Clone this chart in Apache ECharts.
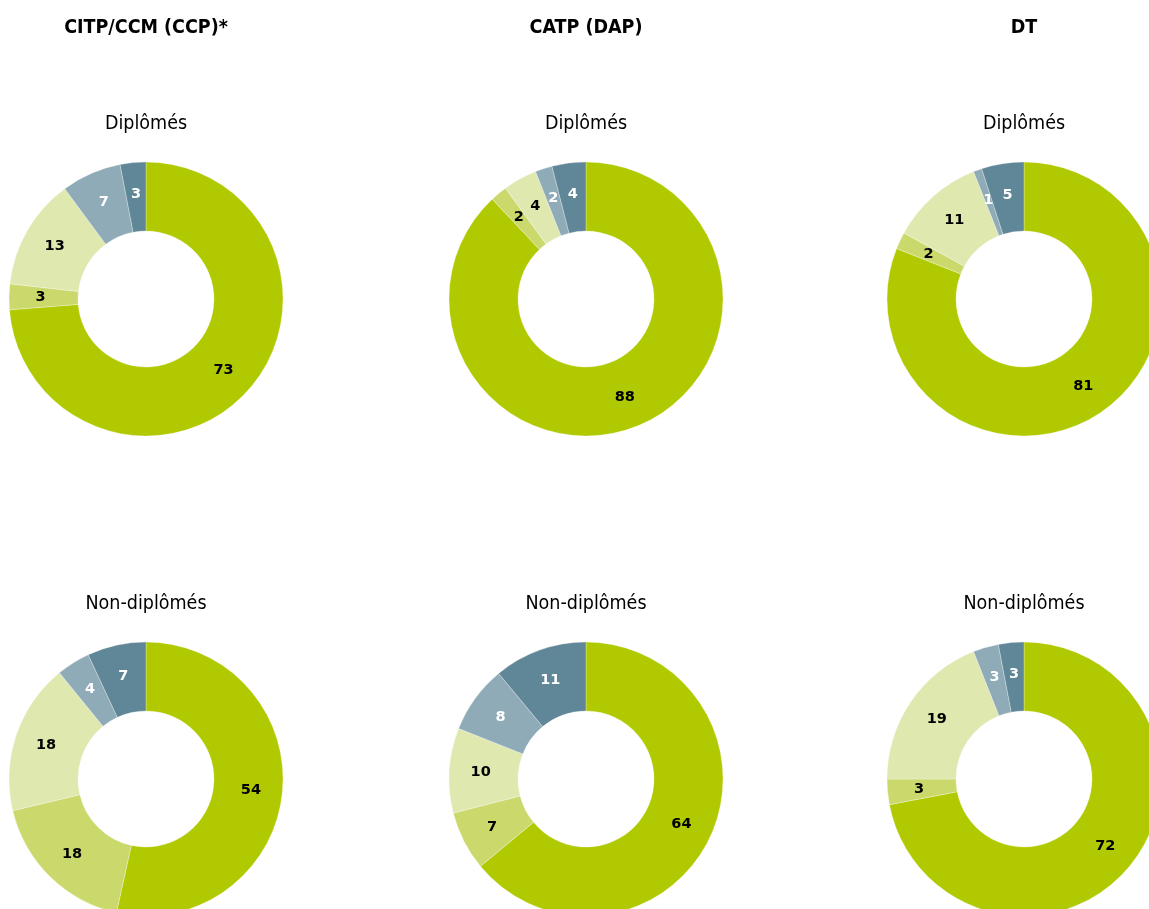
<!DOCTYPE html>
<html>
<head>
<meta charset="utf-8">
<script src="https://cdn.jsdelivr.net/npm/echarts@6/dist/echarts.min.js"></script>
<style>
html,body{margin:0;padding:0;background:#fff;}
#c{width:1149px;height:909px;}
</style>
</head>
<body>
<div id="c"></div>
<script>
// Column titles and row titles
const columns = ['CITP/CCM (CCP)*', 'CATP (DAP)', 'DT'];
const rows = ['Diplômés', 'Non-diplômés'];
// Slice categories (clockwise from 12 o'clock)
const categories = ['Catégorie 1', 'Catégorie 2', 'Catégorie 3', 'Catégorie 4', 'Catégorie 5'];
// Values per chart
const citpDiplomes    = [73, 3, 13, 7, 3];
const catpDiplomes    = [88, 2, 4, 2, 4];
const dtDiplomes      = [81, 2, 11, 1, 5];
const citpNonDiplomes = [54, 18, 18, 4, 7];
const catpNonDiplomes = [64, 7, 10, 8, 11];
const dtNonDiplomes   = [72, 3, 19, 3, 3];

const values = [
  [citpDiplomes, catpDiplomes, dtDiplomes],
  [citpNonDiplomes, catpNonDiplomes, dtNonDiplomes]
];

const colors = ['#b1c900', '#cbd96c', '#dfe8ae', '#8eabb7', '#5f8797'];
const labelColors = ['#000', '#000', '#000', '#fff', '#fff'];

const colX = [146, 586, 1024];
const rowY = [299, 779];
const condensed = '"Liberation Sans Narrow", "DejaVu Sans Condensed", "Roboto Condensed", "Arial Narrow", sans-serif';

const titles = [];
columns.forEach((t, i) => {
  titles.push({
    text: t, left: colX[i], top: 18, textAlign: 'center', padding: 0,
    textStyle: { fontFamily: condensed, fontWeight: 'bold', fontSize: 19.5, color: '#000' }
  });
});
rows.forEach((r, j) => {
  columns.forEach((t, i) => {
    titles.push({
      text: r, left: colX[i], top: rowY[j] - 185, textAlign: 'center', padding: 0,
      textStyle: { fontFamily: condensed, fontWeight: 'normal', fontSize: 19.5, color: '#000' }
    });
  });
});

const series = [];
rows.forEach((r, j) => {
  columns.forEach((t, i) => {
    series.push({
      type: 'pie',
      center: [colX[i], rowY[j]],
      radius: [68, 137],
      startAngle: 90,
      clockwise: true,
      silent: true,
      animation: false,
      avoidLabelOverlap: false,
      itemStyle: { borderColor: '#ffffff', borderWidth: 0.3 },
      label: {
        show: true, position: 'inside', formatter: '{c}',
        fontFamily: '"DejaVu Sans", sans-serif', fontWeight: 'bold', fontSize: 14.5
      },
      labelLine: { show: false },
      data: values[j][i].map((v, k) => ({
        name: categories[k], value: v,
        itemStyle: { color: colors[k] },
        label: { color: labelColors[k] }
      }))
    });
  });
});

const chart = echarts.init(document.getElementById('c'));
chart.setOption({
  backgroundColor: '#fff',
  title: titles,
  series: series
});
</script>
</body>
</html>
